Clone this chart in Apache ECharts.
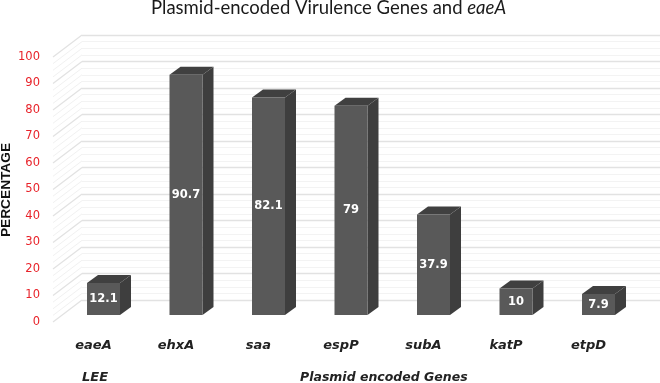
<!DOCTYPE html>
<html><head><meta charset="utf-8">
<style>html,body{margin:0;padding:0;background:#fff}#c{width:660px;height:383px}</style>
<script src="https://cdn.jsdelivr.net/npm/echarts@6/dist/echarts.min.js"></script></head>
<body><div id="c"></div>
<script>
const categories = ['eaeA','ehxA','saa','espP','subA','katP','etpD'];
const percentages = [12.1,90.7,82.1,79,37.9,10,7.9];
const valueLabels = ['12.1','90.7','82.1','79','37.9','10','7.9'];
const wallTicks = [0,10,20,30,40,50,60,70,80,90,100];
const minorWallTicks = [];
wallTicks.slice(0,-1).forEach(t => { minorWallTicks.push(t+2.5,t+5,t+7.5); });

const DEPTH_X = 29, DEPTH_Y = -22, BAR_W = 33, BAR_DX = 11, BAR_DY = -8;
const chart = echarts.init(document.getElementById('c'), null, {renderer:'canvas'});
const font = 'DejaVu Sans';
chart.setOption({
  animation:false,
  backgroundColor:'#fff',
  title:{
    text:'{n|Plasmid-encoded Virulence Genes and }{i|eaeA}',
    left:151, top:-1, padding:0,
    textStyle:{fontWeight:'normal',rich:{
      n:{fontFamily:'Lato',fontSize:18.5,fontWeight:'normal',color:'#1a1a1a'},
      i:{fontFamily:'Lato',fontSize:18.5,fontWeight:'normal',fontStyle:'italic',color:'#1a1a1a'}
    }}
  },
  grid:[
    {left:53,width:577,top:57,height:265},
    {left:82,width:578,top:35,height:265},
    {left:62.25,width:577.5,top:50,height:265}
  ],
  xAxis:[
    {gridIndex:0,type:'value',min:0,max:1,show:false},
    {gridIndex:1,type:'value',min:0,max:1,show:false},
    {gridIndex:2,type:'category',data:categories,
      axisLine:{show:false},axisTick:{show:false},
      axisLabel:{margin:24,interval:0,padding:[0,20,0,0],fontFamily:font,fontSize:13,fontWeight:'bold',fontStyle:'italic',color:'#222'}}
  ],
  yAxis:[
    {gridIndex:0,type:'value',min:0,max:100,interval:10,
      axisLine:{show:false},axisTick:{show:false},splitLine:{show:false},
      axisLabel:{margin:13,fontFamily:font,fontSize:11.5,color:'#e8232a'}},
    {gridIndex:1,type:'value',min:0,max:100,interval:10,
      axisLine:{show:false},axisTick:{show:false},axisLabel:{show:false},
      splitLine:{show:true,lineStyle:{color:'#e2e2e2',width:1.3}},
      minorTick:{show:false,splitNumber:4},
      minorSplitLine:{show:true,lineStyle:{color:'#f3f3f3',width:1}}},
    {gridIndex:2,type:'value',min:0,max:100,show:false}
  ],
  graphic:[
    {type:'text',rotation:Math.PI/2,x:6,y:190,
      style:{text:'PERCENTAGE',fontFamily:'Liberation Sans',fontSize:13.7,fontWeight:'bold',fill:'#111',textAlign:'center',textVerticalAlign:'middle'}},
    {type:'text',x:82,y:371,style:{text:'LEE',fontFamily:font,fontSize:13,fontWeight:'bold',fontStyle:'italic',fill:'#222'}},
    {type:'text',x:300,y:371,style:{text:'Plasmid encoded Genes',fontFamily:font,fontSize:12.5,fontWeight:'bold',fontStyle:'italic',fill:'#222'}}
  ],
  series:[
    {type:'custom',name:'wallMinor',xAxisIndex:0,yAxisIndex:0,silent:true,z:1,
      data:minorWallTicks.map(t=>[0,t]),
      encode:{x:0,y:1},
      renderItem:(p,api)=>{const a=api.coord([0,api.value(1)]);
        return {type:'line',shape:{x1:a[0],y1:a[1],x2:a[0]+DEPTH_X,y2:a[1]+DEPTH_Y},style:{stroke:'#f1f1f1',lineWidth:1}};}},
    {type:'custom',name:'wall',xAxisIndex:0,yAxisIndex:0,silent:true,z:2,
      data:wallTicks.map(t=>[0,t]),
      encode:{x:0,y:1},
      renderItem:(p,api)=>{const a=api.coord([0,api.value(1)]);
        return {type:'line',shape:{x1:a[0],y1:a[1],x2:a[0]+DEPTH_X,y2:a[1]+DEPTH_Y},style:{stroke:'#e2e2e2',lineWidth:1.3}};}},
    {type:'custom',name:'Percentage',xAxisIndex:2,yAxisIndex:2,z:5,
      data:categories.map((c,i)=>[i,percentages[i],valueLabels[i]]),
      encode:{x:0,y:1},
      renderItem:(p,api)=>{
        const top=api.coord([api.value(0),api.value(1)]);
        const base=api.coord([api.value(0),0]);
        const l=top[0]-BAR_W/2,r=top[0]+BAR_W/2,t=top[1],b=base[1];
        return {type:'group',children:[
          {type:'polygon',shape:{points:[[r,t],[r+BAR_DX,t+BAR_DY],[r+BAR_DX,b+BAR_DY],[r,b]]},style:{fill:'#3e3e3e'}},
          {type:'polygon',shape:{points:[[l,t],[l+BAR_DX,t+BAR_DY],[r+BAR_DX,t+BAR_DY],[r,t]]},style:{fill:'#404040'}},
          {type:'rect',shape:{x:l,y:t,width:BAR_W,height:b-t},style:{fill:'#595959'}},
          {type:'text',x:top[0],y:(t+b)/2,style:{text:valueLabels[p.dataIndex],fontFamily:font,fontSize:11.5,fontWeight:'bold',fill:'#fff',textAlign:'center',textVerticalAlign:'middle'}}
        ]};
      }}
  ]
});
</script></body></html>
